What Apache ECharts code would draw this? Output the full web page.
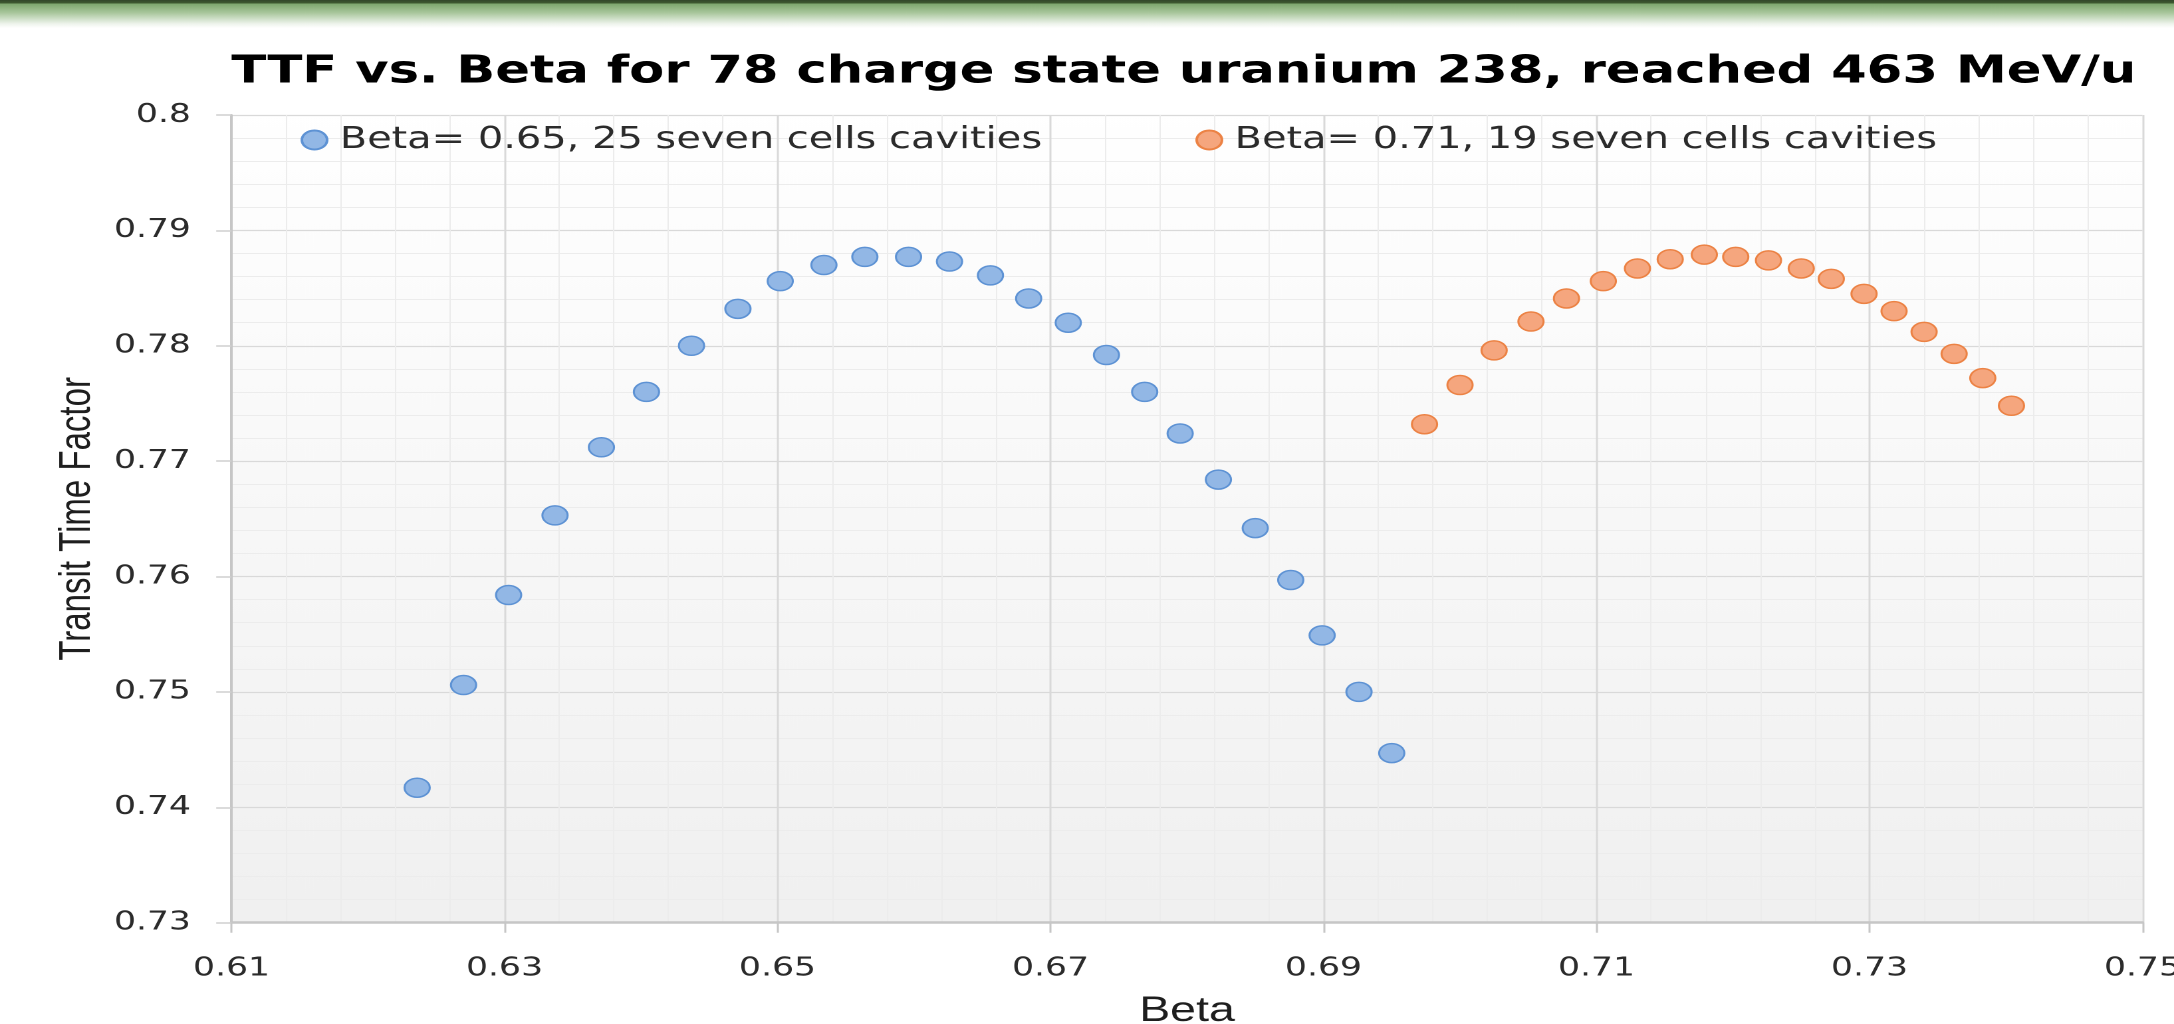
<!DOCTYPE html>
<html>
<head>
<meta charset="utf-8">
<title>TTF vs. Beta</title>
<script src="https://cdn.jsdelivr.net/npm/echarts@6/dist/echarts.min.js"></script>
<style>
  html, body { margin: 0; padding: 0; background: #ffffff; overflow: hidden; }
  #wrap { width: 2174px; height: 1024px; overflow: hidden; position: relative; background: #ffffff; }
  /* the reference is a horizontally stretched chart: render narrower and stretch */
  #main { width: 1635px; height: 1024px; transform: scaleX(1.32966); transform-origin: 0 0; }
</style>
</head>
<body>
<div id="wrap"><div id="main"></div></div>
<script>
// ---- data ----
const titleText = 'TTF vs. Beta for 78 charge state uranium 238, reached 463 MeV/u';
const seriesNames = ['Beta= 0.65, 25 seven cells cavities', 'Beta= 0.71, 19 seven cells cavities'];
const xAxisName = 'Beta';
const yAxisName = 'Transit Time Factor';

const beta065 = [0.6236, 0.6270, 0.6303, 0.6337, 0.6371, 0.6404, 0.6437, 0.6471, 0.6502, 0.6534,
                 0.6564, 0.6596, 0.6626, 0.6656, 0.6684, 0.6713, 0.6741, 0.6769, 0.6795, 0.6823,
                 0.6850, 0.6876, 0.6899, 0.6926, 0.6950];
const ttf065  = [0.7417, 0.7506, 0.7584, 0.7653, 0.7712, 0.7760, 0.7800, 0.7832, 0.7856, 0.7870,
                 0.7877, 0.7877, 0.7873, 0.7861, 0.7841, 0.7820, 0.7792, 0.7760, 0.7724, 0.7684,
                 0.7642, 0.7597, 0.7549, 0.7500, 0.7447];

const beta071 = [0.6974, 0.7000, 0.7025, 0.7052, 0.7078, 0.7105, 0.7130, 0.7154, 0.7179, 0.7202,
                 0.7226, 0.7250, 0.7272, 0.7296, 0.7318, 0.7340, 0.7362, 0.7383, 0.7404];
const ttf071  = [0.7732, 0.7766, 0.7796, 0.7821, 0.7841, 0.7856, 0.7867, 0.7875, 0.7879, 0.7877,
                 0.7874, 0.7867, 0.7858, 0.7845, 0.7830, 0.7812, 0.7793, 0.7772, 0.7748];

const xMin = 0.61, xMax = 0.75, xStep = 0.02;
const yMin = 0.73, yMax = 0.80, yStep = 0.01;

// ---- chart ----
const toPairs = (xs, ys) => xs.map((x, i) => [x, ys[i]]);
const chart = echarts.init(document.getElementById('main'), null, { devicePixelRatio: 2 });

const labelFont = 'DejaVu Sans';
const option = {
  backgroundColor: '#ffffff',
  animation: false,
  graphic: [{
    type: 'rect',
    left: 0, top: 0, z: -10,
    shape: { width: 1635, height: 28 },
    style: {
      fill: new echarts.graphic.LinearGradient(0, 0, 0, 1, [
        { offset: 0, color: '#33482a' },
        { offset: 0.12, color: '#3f5b31' },
        { offset: 0.13, color: '#7da66d' },
        { offset: 0.45, color: '#a8c69b' },
        { offset: 0.85, color: '#eef4ec' },
        { offset: 1, color: '#ffffff' }
      ])
    }
  }],
  title: {
    text: titleText,
    left: 174,
    top: 53,
    padding: 0,
    textStyle: { fontFamily: labelFont, fontWeight: 'bold', fontSize: 38.5, color: '#000000' }
  },
  legend: [{
    data: [seriesNames[0]],
    left: 226, top: 125, padding: 0,
    itemWidth: 28, itemHeight: 19,
    icon: 'circle',
    textStyle: { fontFamily: labelFont, fontSize: 30, color: '#2b2b2b' }
  }, {
    data: [seriesNames[1]],
    left: 899, top: 125, padding: 0,
    itemWidth: 28, itemHeight: 19,
    icon: 'circle',
    textStyle: { fontFamily: labelFont, fontSize: 30, color: '#2b2b2b' }
  }],
  grid: {
    left: 174.1, right: 23.7, top: 115, bottom: 101.3,
    outerBoundsMode: 'none',
    containLabel: false,
    show: true,
    borderWidth: 0,
    backgroundColor: new echarts.graphic.LinearGradient(0, 0, 0, 1, [
      { offset: 0, color: '#ffffff' },
      { offset: 1, color: '#f0f0f0' }
    ])
  },
  xAxis: {
    type: 'value',
    min: xMin, max: xMax, interval: xStep,
    name: xAxisName,
    nameLocation: 'middle',
    nameGap: 71,
    nameTextStyle: { fontFamily: 'Liberation Sans', fontSize: 35, color: '#1e1e1e' },
    axisLine: { show: true, onZero: false, lineStyle: { color: '#c6c6c6', width: 2.5 } },
    axisTick: { show: true, inside: false, length: 10, lineStyle: { color: '#c6c6c6', width: 1.5 } },
    axisLabel: {
      margin: 33,
      fontFamily: labelFont, fontSize: 26, color: '#2b2b2b',
      formatter: v => v.toFixed(2)
    },
    splitLine: { show: true, lineStyle: { color: '#d9d9d9', width: 1.5 } },
    minorTick: { show: false, splitNumber: 5 },
    minorSplitLine: { show: true, lineStyle: { color: '#ececec', width: 1 } }
  },
  yAxis: {
    type: 'value',
    min: yMin, max: yMax, interval: yStep,
    name: yAxisName,
    nameLocation: 'middle',
    nameGap: 97,
    nameTextStyle: { fontFamily: 'Liberation Sans', fontSize: 33, color: '#1e1e1e' },
    axisLine: { show: true, onZero: false, lineStyle: { color: '#c6c6c6', width: 2 } },
    axisTick: { show: true, inside: false, length: 11.5, lineStyle: { color: '#d0d0d0', width: 1.5 } },
    axisLabel: {
      margin: 30.5,
      fontFamily: labelFont, fontSize: 26, color: '#2b2b2b',
      formatter: v => String(parseFloat(v.toFixed(2)))
    },
    splitLine: { show: true, lineStyle: { color: '#d9d9d9', width: 1.3 } },
    minorTick: { show: false, splitNumber: 5 },
    minorSplitLine: { show: true, lineStyle: { color: '#ececec', width: 1 } }
  },
  series: [{
    name: seriesNames[0],
    type: 'scatter',
    symbol: 'circle',
    symbolSize: 19,
    data: toPairs(beta065, ttf065),
    itemStyle: { color: '#92b7e5', borderColor: '#5d92d4', borderWidth: 1.5, opacity: 1 }
  }, {
    name: seriesNames[1],
    type: 'scatter',
    symbol: 'circle',
    symbolSize: 19,
    data: toPairs(beta071, ttf071),
    itemStyle: { color: '#f5a67e', borderColor: '#ec8244', borderWidth: 1.5, opacity: 1 }
  }]
};
chart.setOption(option);
</script>
</body>
</html>
